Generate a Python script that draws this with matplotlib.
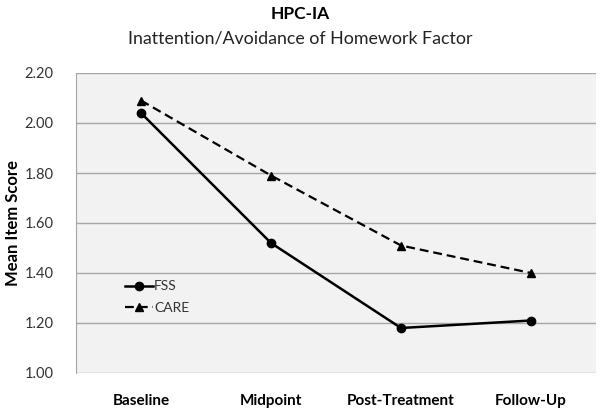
import matplotlib
matplotlib.use("Agg")
import matplotlib.pyplot as plt

categories = ["Baseline", "Midpoint", "Post-Treatment", "Follow-Up"]
fss = [2.04, 1.52, 1.18, 1.21]
care = [2.09, 1.79, 1.51, 1.40]
yticks = [1.00, 1.20, 1.40, 1.60, 1.80, 2.00, 2.20]

plt.rcParams['font.family'] = ['Lato', 'DejaVu Sans']

fig = plt.figure(figsize=(6, 4.12), dpi=100)
ax = fig.add_axes([76/600, 39/412, 520/600, 300/412])
ax.set_facecolor('#f2f2f2')

x = list(range(len(categories)))
ax.plot(x, fss, color='black', lw=1.8, marker='o', ms=6, label='FSS')
ax.plot(x, care, color='black', lw=1.6, ls=(0, (4, 2.2)), marker='^', ms=6, label='CARE')

ax.set_xlim(-0.5, 3.5)
ax.set_ylim(1.0, 2.2)
ax.set_yticks(yticks)
ax.set_yticklabels([f"{v:.2f}" for v in yticks], fontsize=10.5, color='#333333')
ax.set_xticks(x)
ax.set_xticklabels(categories, fontsize=11, fontweight='bold')
ax.tick_params(axis='both', length=0)
ax.tick_params(axis='x', pad=15)
ax.tick_params(axis='y', pad=16)
ax.grid(axis='y', color='#a6a6a6', lw=1)
ax.set_axisbelow(True)
for s in ['top', 'right', 'bottom']:
    ax.spines[s].set_visible(False)
ax.spines['left'].set_color('#a6a6a6')
ax.set_ylabel("Mean Item Score", fontsize=12, fontweight='bold')
ax.yaxis.set_label_coords(-55/520, 0.5)

leg = ax.legend(loc='upper left', bbox_to_anchor=(0.07, 0.35), frameon=False,
                fontsize=10, handlelength=2.0, handletextpad=0.1, labelspacing=0.7)
for t in leg.get_texts():
    t.set_color('#333333')

fig.text(0.5, 1 - 14/412, "HPC-IA", ha='center', va='center', fontsize=12.5, fontweight='bold')
fig.text(0.5, 1 - 38/412, "Inattention/Avoidance of Homework Factor", ha='center', va='center', fontsize=12.8, color='#222222')

fig.savefig("out.png", dpi=100)
